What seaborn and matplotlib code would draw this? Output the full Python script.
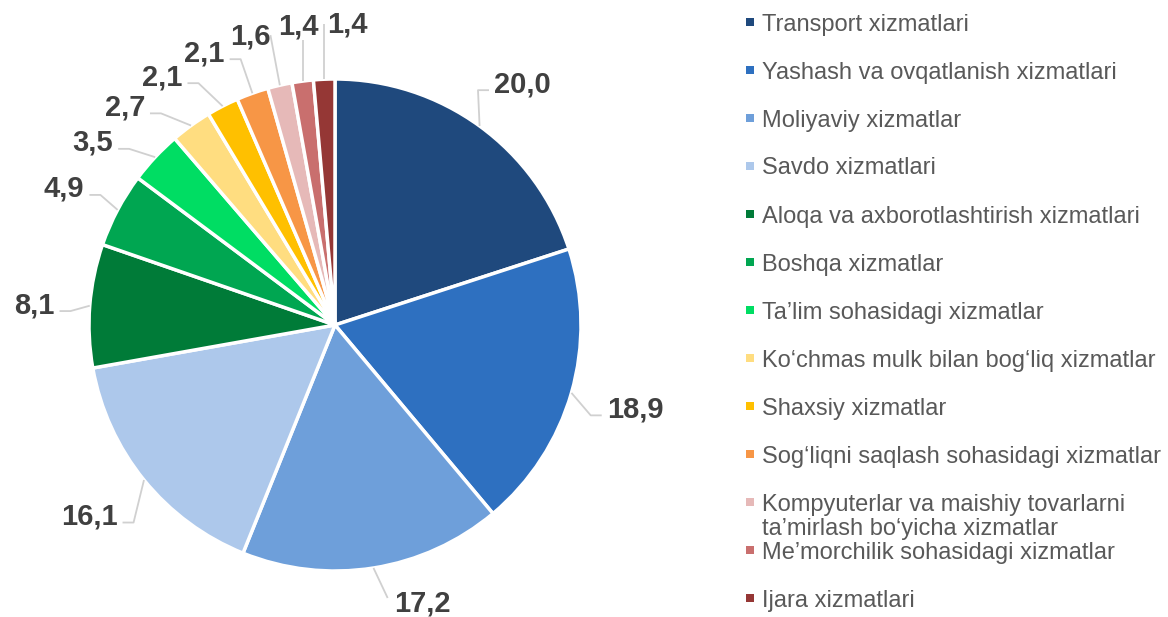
import numpy as np
import seaborn as sns
from matplotlib import pyplot as plt
from matplotlib.patches import Rectangle

sns.set_theme(style='white')
plt.rcParams['font.family'] = ['Liberation Sans', 'DejaVu Sans']

# data
categories = ['Transport xizmatlari',
              'Yashash va ovqatlanish xizmatlari',
              'Moliyaviy xizmatlar',
              'Savdo xizmatlari',
              'Aloqa va axborotlashtirish xizmatlari',
              'Boshqa xizmatlar',
              'Ta’lim sohasidagi xizmatlar',
              'Ko‘chmas mulk bilan bog‘liq xizmatlar',
              'Shaxsiy xizmatlar',
              'Sog‘liqni saqlash sohasidagi xizmatlar',
              'Kompyuterlar va maishiy tovarlarni\nta’mirlash bo‘yicha xizmatlar',
              'Me’morchilik sohasidagi xizmatlar',
              'Ijara xizmatlari']
shares = [20.0, 18.9, 17.2, 16.1, 8.1, 4.9, 3.5, 2.7, 2.1, 2.1, 1.6, 1.4, 1.4]
colors = ['#1F497D', '#2E70C0', '#6E9FDA', '#ADC8EB', '#007B38', '#00A651',
          '#00DD63', '#FFDD80', '#FFC000', '#F79646', '#E6B9B8', '#C96F6E', '#953735']

W, H = 1168, 617
R = 246.0          # pie radius in px
cx, cy = 335, 325  # pie centre in px (from top)

fig = plt.figure(figsize=(W / 100, H / 100), dpi=100)
ax = fig.add_axes([0, 0, 1, 1])
wedges, _ = ax.pie(shares, colors=colors, startangle=90, counterclock=False,
                   radius=1, wedgeprops=dict(edgecolor='white', linewidth=2.5))
ymin, ymax = -(H - cy) / R, cy / R
ax.set_xlim(-cx / R, (W - cx) / R)
ax.set_ylim(ymin, ymax)
ax.set_aspect('auto')
ax.axis('off')
renderer = fig.canvas.get_renderer()

# mid angles of wedges (unwrapped, clockwise)
cum = np.cumsum([0] + shares[:-1])
mids = [90 - 360 * (c + s / 2) / 100 for c, s in zip(cum, shares)]

# spread the label angles so neighbours keep a minimum gap
gap = 9.0
pos = list(mids)
groups = [[i] for i in range(len(mids))]
changed = True
while changed:
    changed = False
    for g in range(len(groups) - 1):
        a, b = groups[g], groups[g + 1]
        if pos[a[-1]] - pos[b[0]] < gap:
            merged = a + b
            centre = (mids[merged[0]] + mids[merged[-1]]) / 2
            half = (len(merged) - 1) / 2
            for j, k in enumerate(merged):
                pos[k] = centre + (half - j) * gap
            groups[g:g + 2] = [merged]
            changed = True
            break

px = 1 / R
hh = 11 * px   # half ink height of the digits
for v, m, p in zip(shares, mids, pos):
    m, p = np.radians(m), np.radians(p)
    c, s = np.cos(p), np.sin(p)
    x0, y0 = np.cos(m), np.sin(m)
    t = ax.text(0, 0, f'{v:.1f}'.replace('.', ','), ha='center', va='baseline',
                fontsize=21, fontweight='bold', color='#404040')
    hw = t.get_window_extent(renderer).width / 2 * px
    re = 1.14 + 0.05 * abs(s)
    tx = re * c + c * hw
    ty = re * s + s * hh
    clamped = min(max(ty, ymin + hh + 6 * px), ymax - hh - 3 * px)
    if clamped != ty:
        # no room further out: slide the label sideways instead
        tx += np.sign(c) * hw * 1.3
        ty = clamped
    t.set_position((tx, ty - hh))
    if abs(c) >= 0.3:
        side = 1 if c > 0 else -1
        xe = tx - side * (hw + 5 * px)
        xk = xe - side * 11 * px
        ly = ty - 9 * px
        xs, ys = [x0, xk, xe], [y0, ly, ly]
    else:
        xe = np.clip(x0, tx - hw - 6 * px, tx + hw)
        ye = ty - np.sign(s) * (hh + 6 * px) if abs(xe - tx) < hw else ty - np.sign(s) * 2 * px
        xs, ys = [x0, xe], [y0, ye]
    ax.plot(xs, ys, color='#D0D0D0', lw=1.3, solid_capstyle='butt', zorder=1)

# legend on the right
step = 48
for i, (name, col) in enumerate(zip(categories, colors)):
    yc = 22 + i * step
    fig.add_artist(Rectangle((746 / W, 1 - (yc + 4) / H), 8 / W, 8 / H,
                             transform=fig.transFigure, facecolor=col,
                             edgecolor='none'))
    for j, line in enumerate(name.split('\n')):
        fig.text(762 / W, 1 - (yc + 8.5 + j * 24) / H, line, ha='left',
                 va='baseline', fontsize=17, color='#595959')

fig.savefig('out.png', dpi=100, facecolor='white')
